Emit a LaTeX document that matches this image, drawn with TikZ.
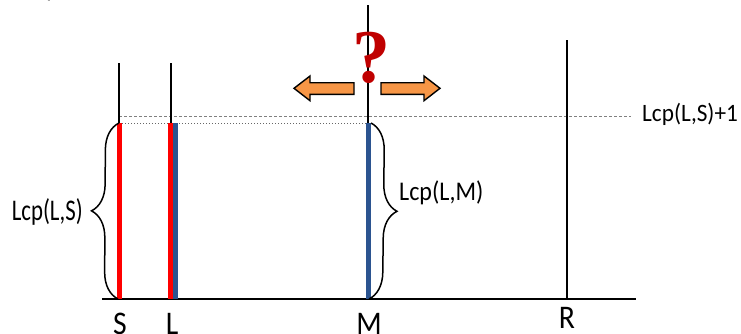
\documentclass[tikz,border=0pt]{standalone}
\usepackage{fontspec}
\setmainfont{Carlito}
\newfontfamily\qfont{Liberation Serif}
\usetikzlibrary{decorations.pathreplacing}
\definecolor{barred}{HTML}{FF0000}
\definecolor{barblue}{HTML}{2B5490}
\definecolor{qred}{HTML}{C00000}
\definecolor{arroworange}{HTML}{F79646}
\definecolor{guidegray}{HTML}{808080}
\tikzset{
  axisline/.style={line width=1.6pt, black},
  redbar/.style={line width=4.6pt, barred},
  bluebar/.style={line width=4.6pt, barblue},
  guidedot/.style={line width=1pt, guidegray!80!black, dash pattern=on 1.2pt off 1.8pt},
  guidedash/.style={line width=0.9pt, guidegray, dash pattern=on 3pt off 2pt},
  bracestyle/.style={line width=1.5pt, black, decorate, decoration={brace, amplitude=27pt, aspect=0.5}},
  fatarrow/.style={line width=1.4pt, black, fill=arroworange, line join=miter},
  lbl/.style={inner sep=0pt, anchor=base}
}
\begin{document}
\begin{tikzpicture}[x=1pt, y=-1pt]
\clip (0,0) rectangle (741,333);
\useasboundingbox (0,0) rectangle (741,333);
\fill[white] (0,0) rectangle (741,333);

% cut-off title at the top
\node[lbl, anchor=base west] (title) at (26,-3.5) {\fontsize{27}{30}\selectfont\scalebox{0.89}[1]{Lcp(L,M)}};

% key coordinates
\coordinate (axl) at (102,299);
\coordinate (axr) at (636,299);
\coordinate (Stop) at (119,63);   \coordinate (Sbot) at (119,299);
\coordinate (Ltop) at (171,63);   \coordinate (Lbot) at (171,299);
\coordinate (Mtop) at (368,5);    \coordinate (Mbot) at (368,299);
\coordinate (Rtop) at (567,40);   \coordinate (Rbot) at (567,299);
\coordinate (Sbar) at (119,123);
\coordinate (Lbar) at (171,123);
\coordinate (Mbar) at (368,123);
\coordinate (dashL) at (119,116);
\coordinate (dashR) at (631,116);

% guide lines
\draw[guidedash] (dashL) -- (dashR);
\draw[guidedot] (Sbar) -- (Mbar);

% black lines
\draw[axisline] (axl) -- (axr);
\draw[axisline] (Stop) -- (Sbot);
\draw[axisline] (Ltop) -- (Lbot);
\draw[axisline] (Mtop) -- (Mbot);
\draw[axisline] (Rtop) -- (Rbot);

% coloured bars
\draw[redbar] ([xshift=0.5pt]Sbar) -- ([xshift=0.5pt]Sbot);
\draw[redbar] ([xshift=-0.6pt]Lbar) -- ([xshift=-0.6pt]Lbot);
\draw[bluebar] ([xshift=4.2pt]Lbar) -- ([xshift=4.2pt]Lbot);
\draw[bluebar] ([xshift=0.5pt]Mbar) -- ([xshift=0.5pt]Mbot);

% braces
\draw[bracestyle] (118,299) -- (119,123);
\draw[bracestyle] (371,123) -- (369,299);

% labels
\node[lbl, anchor=base east] (lcpls) at (83,220) {\fontsize{30}{33}\selectfont\scalebox{0.76}[1]{Lcp(L,S)}};
\node[lbl, anchor=base west] (lcplm) at (399,200) {\fontsize{27}{30}\selectfont\scalebox{0.89}[1]{Lcp(L,M)}};
\node[lbl, anchor=base west] (lcpls1) at (642,121) {\fontsize{25}{28}\selectfont\scalebox{0.93}[1]{Lcp(L,S)+1}};

\node[lbl] (labS) at (120,334) {\fontsize{33}{36}\selectfont\scalebox{0.9}[1]{S}};
\node[lbl] (labL) at (172,334) {\fontsize{33}{36}\selectfont\scalebox{0.9}[1]{L}};
\node[lbl] (labM) at (369,334) {\fontsize{33}{36}\selectfont\scalebox{0.9}[1]{M}};
\node[lbl] (labR) at (567,328) {\fontsize{33}{36}\selectfont\scalebox{0.9}[1]{R}};

% question mark
\node[lbl] (qmark) at (371,82) {\fontsize{76}{78}\selectfont\qfont\bfseries\color{qred}?};

% arrows
\draw[fatarrow] (294,88.3) -- (310,76) -- (310,82.7) -- (354,82.7) -- (354,94.3) -- (310,94.3) -- (310,100.7) -- cycle;
\draw[fatarrow] (440,88.3) -- (424,76) -- (424,82.7) -- (381,82.7) -- (381,94.3) -- (424,94.3) -- (424,100.7) -- cycle;
\end{tikzpicture}
\end{document}
